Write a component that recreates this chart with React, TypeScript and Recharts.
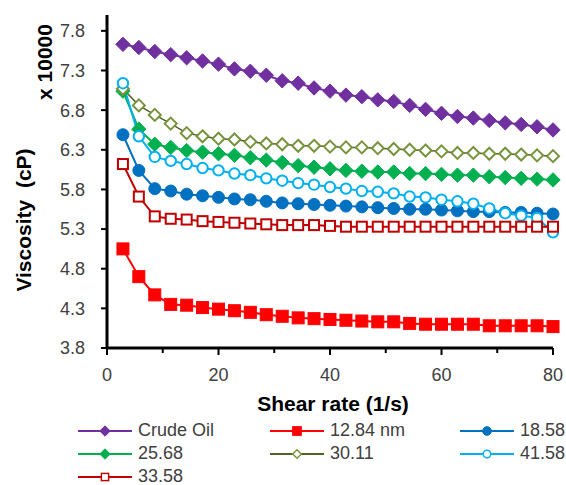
import { LineChart, Line, XAxis, YAxis, Legend } from 'recharts';

// shear rate (1/s) of each measurement point
const shearRate = [
  2.86, 5.71, 8.57, 11.43, 14.29, 17.14, 20.0, 22.86, 25.71, 28.57, 31.43, 34.29, 37.14, 40.0,
  42.86, 45.71, 48.57, 51.43, 54.29, 57.14, 60.0, 62.86, 65.71, 68.57, 71.43, 74.29, 77.14, 80.0,
];

// viscosity (cP x 10000)
const crudeOil = [
  7.63, 7.59, 7.54, 7.5, 7.46, 7.42, 7.38, 7.32, 7.29, 7.24, 7.17, 7.14, 7.08, 7.04,
  6.99, 6.97, 6.93, 6.91, 6.86, 6.81, 6.76, 6.72, 6.7, 6.67, 6.64, 6.62, 6.59, 6.55,
];
const np1284 = [
  5.05, 4.7, 4.47, 4.35, 4.34, 4.31, 4.29, 4.27, 4.25, 4.22, 4.2, 4.18, 4.17, 4.16,
  4.15, 4.14, 4.13, 4.13, 4.11, 4.1, 4.1, 4.1, 4.1, 4.08, 4.08, 4.08, 4.08, 4.07,
];
const np1858 = [
  6.49, 6.04, 5.81, 5.78, 5.74, 5.72, 5.7, 5.68, 5.67, 5.65, 5.63, 5.62, 5.61, 5.6,
  5.59, 5.58, 5.57, 5.56, 5.55, 5.55, 5.54, 5.53, 5.52, 5.52, 5.51, 5.51, 5.5, 5.49,
];
const np2568 = [
  7.04, 6.56, 6.37, 6.33, 6.29, 6.27, 6.25, 6.23, 6.2, 6.17, 6.14, 6.1, 6.08, 6.06,
  6.04, 6.03, 6.02, 6.02, 6.0, 6.0, 5.99, 5.98, 5.98, 5.96, 5.95, 5.94, 5.93, 5.92,
];
const np3011 = [
  7.07, 6.86, 6.74, 6.63, 6.51, 6.47, 6.44, 6.43, 6.4, 6.38, 6.37, 6.35, 6.35, 6.34,
  6.33, 6.33, 6.32, 6.31, 6.3, 6.29, 6.28, 6.26, 6.26, 6.25, 6.25, 6.24, 6.23, 6.22,
];
const np4158 = [
  7.14, 6.47, 6.21, 6.16, 6.12, 6.07, 6.04, 6.0, 5.98, 5.94, 5.91, 5.88, 5.86, 5.83,
  5.81, 5.78, 5.77, 5.75, 5.71, 5.7, 5.67, 5.65, 5.62, 5.56, 5.5, 5.47, 5.44, 5.26,
];
const np3358 = [
  6.12, 5.71, 5.46, 5.43, 5.42, 5.4, 5.39, 5.38, 5.37, 5.36, 5.35, 5.35, 5.35, 5.34,
  5.33, 5.33, 5.33, 5.33, 5.33, 5.33, 5.33, 5.33, 5.33, 5.33, 5.33, 5.33, 5.33, 5.33,
];

const xTicks = [0, 10, 20, 30, 40, 50, 60, 70, 80];
const yTicks = [3.8, 4.3, 4.8, 5.3, 5.8, 6.3, 6.8, 7.3, 7.8];

type Shape = 'diamond' | 'square' | 'circle';

const series = [
  { key: 'crude', name: 'Crude Oil', values: crudeOil, line: '#7030A0', color: '#7030A0', shape: 'diamond' as Shape, filled: true },
  { key: 'n1284', name: '12.84 nm', values: np1284, line: '#FF0000', color: '#FF0000', shape: 'square' as Shape, filled: true },
  { key: 'n1858', name: '18.58', values: np1858, line: '#0070C0', color: '#0070C0', shape: 'circle' as Shape, filled: true },
  { key: 'n2568', name: '25.68', values: np2568, line: '#00B050', color: '#00B050', shape: 'diamond' as Shape, filled: true },
  { key: 'n3011', name: '30.11', values: np3011, line: '#4F6228', color: '#77933C', shape: 'diamond' as Shape, filled: false },
  { key: 'n4158', name: '41.58', values: np4158, line: '#00B0F0', color: '#00B0F0', shape: 'circle' as Shape, filled: false },
  { key: 'n3358', name: '33.58', values: np3358, line: '#C00000', color: '#C00000', shape: 'square' as Shape, filled: false },
];

const data = shearRate.map((x, i) => {
  const row: Record<string, number> = { x };
  series.forEach((s) => {
    row[s.key] = s.values[i];
  });
  return row;
});

const FONT = '"Liberation Sans", Arial, sans-serif';
const TEXT = '#404040';

function Marker({ cx, cy, shape, color, filled, scale = 1 }: any) {
  const fill = filled ? color : '#fff';
  const sw = filled ? 1 : 2 * scale;
  if (shape === 'diamond') {
    const r = (filled ? 7.2 : 6) * scale;
    return (
      <polygon
        points={`${cx},${cy - r} ${cx + r},${cy} ${cx},${cy + r} ${cx - r},${cy}`}
        fill={fill}
        stroke={color}
        strokeWidth={sw}
      />
    );
  }
  if (shape === 'square') {
    const h = (filled ? 6 : 5) * scale;
    return <rect x={cx - h} y={cy - h} width={h * 2} height={h * 2} fill={fill} stroke={color} strokeWidth={sw} />;
  }
  const r = (filled ? 6 : 5.2) * scale;
  return <circle cx={cx} cy={cy} r={r} fill={fill} stroke={color} strokeWidth={sw} />;
}

const makeDot = (s: (typeof series)[number]) => (props: any) => {
  const { cx, cy, index } = props;
  return <Marker key={`${s.key}-${index}`} cx={cx} cy={cy} shape={s.shape} color={s.color} filled={s.filled} />;
};

const XTick = (props: any) => {
  const { x, y, payload } = props;
  const major = payload.value % 20 === 0;
  return (
    <g>
      <line x1={x} x2={x} y1={y} y2={y + (major ? 7 : 5)} stroke="#000" strokeWidth={2} />
      {major && (
        <text x={x} y={y + 33} textAnchor="middle" fill={TEXT} fontSize={18}>
          {payload.value}
        </text>
      )}
    </g>
  );
};

const YLabel = () => (
  <g fontWeight="bold" fontSize={21} fill="#000">
    <text x={23} y={220} transform="rotate(-90, 23, 220)" textAnchor="middle" dominantBaseline="central">
      {'Viscosity\u00A0 (cP)'}
    </text>
    <text x={44} y={62} transform="rotate(-90, 44, 62)" textAnchor="middle" dominantBaseline="central">
      x 10000
    </text>
  </g>
);

const XLabel = () => (
  <text x={333} y={411} textAnchor="middle" fontWeight="bold" fontSize={21} fill="#000">
    Shear rate (1/s)
  </text>
);

const renderLegend = () => (
  <div
    style={{
      display: 'grid',
      gridTemplateColumns: '192px 190px 106px',
      fontSize: 18,
      lineHeight: '15px',
      color: TEXT,
      fontFamily: FONT,
    }}
  >
    {series.map((s) => (
      <div key={s.key} style={{ display: 'flex', alignItems: 'center', height: 23 }}>
        <svg width={54} height={16}>
          <line x1={0} y1={8} x2={54} y2={8} stroke={s.line} strokeWidth={2} />
          <Marker cx={27} cy={8} shape={s.shape} color={s.color} filled={s.filled} scale={0.72} />
        </svg>
        <span style={{ marginLeft: 6, whiteSpace: 'nowrap' }}>{s.name}</span>
      </div>
    ))}
  </div>
);

export default function App() {
  return (
    <div style={{ position: 'absolute', left: 0, top: 0, width: 566, height: 485, background: '#fff', fontFamily: FONT }}>
      <LineChart width={566} height={485} data={data} margin={{ top: 15, right: 13, left: 47, bottom: 77 }}>
        <XAxis
          dataKey="x"
          type="number"
          domain={[0, 80]}
          ticks={xTicks}
          interval={0}
          height={60}
          axisLine={{ stroke: '#000', strokeWidth: 3 }}
          tickLine={false}
          tickSize={0}
          tickMargin={0}
          tick={<XTick />}
          label={<XLabel />}
        />
        <YAxis
          type="number"
          domain={[3.8, 8.0]}
          ticks={yTicks}
          interval={0}
          width={60}
          axisLine={{ stroke: '#000', strokeWidth: 3 }}
          tickLine={{ stroke: '#000', strokeWidth: 2 }}
          tickSize={6}
          tickMargin={16}
          tick={{ fill: TEXT, fontSize: 18 }}
          tickFormatter={(v: number) => v.toFixed(1)}
          label={<YLabel />}
        />
        <Legend
          layout="horizontal"
          verticalAlign="middle"
          align="center"
          content={renderLegend}
          wrapperStyle={{ left: 78, top: 419, width: 488 }}
        />
        {series.map((s) => (
          <Line
            key={s.key}
            dataKey={s.key}
            name={s.name}
            type="linear"
            stroke={s.line}
            strokeWidth={s.key === 'n3011' ? 1.5 : 2}
            dot={makeDot(s)}
            activeDot={false}
            isAnimationActive={false}
          />
        ))}
      </LineChart>
    </div>
  );
}
